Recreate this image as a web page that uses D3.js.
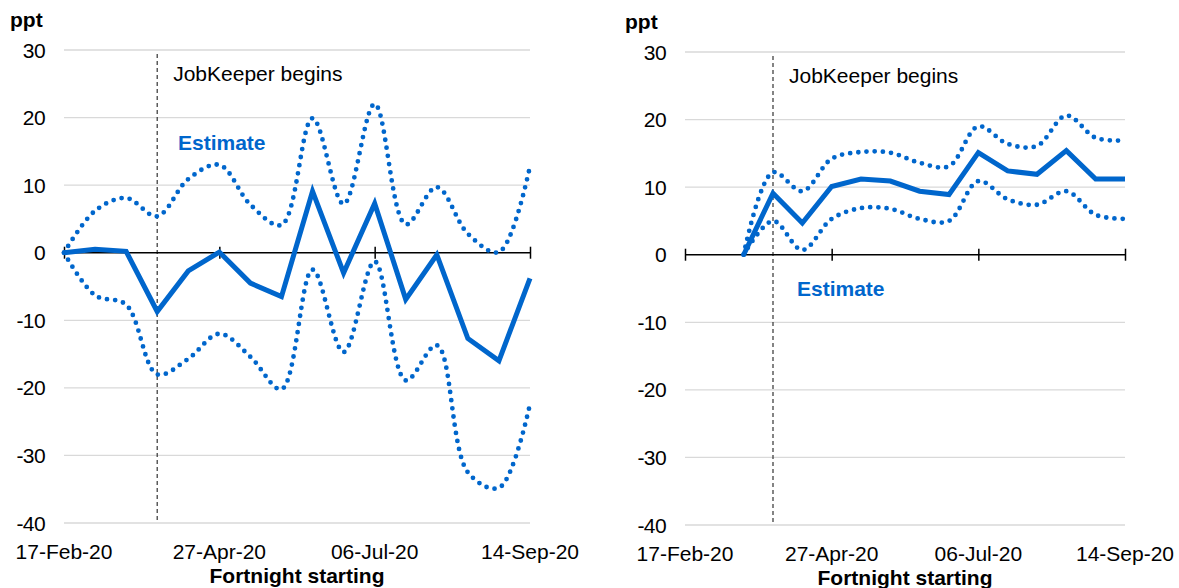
<!DOCTYPE html>
<html>
<head>
<meta charset="utf-8">
<script src="https://cdn.jsdelivr.net/npm/d3@7"></script>
<style>
  body { margin: 0; background: #fff; }
  svg { font-family: "Liberation Sans", Arial, sans-serif; }
</style>
</head>
<body>
<div id="chart"></div>
<script>
// fortnight start dates (x axis)
const fortnights = ["2020-02-17", "2020-03-02", "2020-03-16", "2020-03-30", "2020-04-13", "2020-04-27",
  "2020-05-11", "2020-05-25", "2020-06-08", "2020-06-22", "2020-07-06", "2020-07-20",
  "2020-08-03", "2020-08-17", "2020-08-31", "2020-09-14"];
const tickDates = ["2020-02-17", "2020-04-27", "2020-07-06", "2020-09-14"];
const jobKeeperDate = "2020-03-30";
const yTicks = [30, 20, 10, 0, -10, -20, -30, -40];

// left panel
const leftEstimate = [0, 0.5, 0.2, -8.7, -2.7, 0.1, -4.5, -6.5, 9.1, -3.0, 7.3, -6.9, -0.3, -12.7, -16.0, -3.8];
const leftUpper = [0, 6.2, 8.1, 5.4, 10.9, 13.0, 7.1, 4.1, 19.9, 7.2, 22.0, 4.2, 9.7, 2.8, 0.1, 12.8];
const leftLower = [0, -6.3, -7.7, -18.0, -15.7, -12.0, -15.4, -20.2, -2.5, -14.7, -1.3, -18.9, -13.7, -32.5, -34.8, -22.4];

// right panel
const rightEstimate = [null, null, 0, 9.1, 4.7, 10.1, 11.2, 10.9, 9.4, 8.9, 15.1, 12.4, 11.9, 15.4, 11.2, 11.2];
const rightUpper = [null, null, 0, 12.2, 9.4, 14.2, 15.2, 15.1, 13.6, 13.1, 19.0, 16.4, 16.1, 20.6, 17.3, 16.9];
const rightLower = [null, null, 0, 5.0, 0.7, 5.3, 6.9, 6.8, 5.3, 5.0, 10.9, 8.2, 7.4, 9.4, 5.9, 5.3];

const parse = d3.timeParse("%Y-%m-%d");
const fmt = d3.timeFormat("%d-%b-%y");
const blue = "#0066cc";
const fs = 21;

const svg = d3.select("#chart").append("svg")
  .attr("width", 1179)
  .attr("height", 588);

function drawPanel(cfg) {
  let x = d3.scaleTime()
    .domain([parse(fortnights[0]), parse(fortnights[fortnights.length - 1])])
    .range([cfg.x0, cfg.x1]);
  let y = d3.scaleLinear()
    .domain([-40, 30])
    .range([cfg.yBottom, cfg.yTop]);

  let g = svg.append("g");

  // gridlines
  g.selectAll(".grid")
    .data(yTicks.filter(d => d != 0))
    .enter()
    .append("line")
    .attr("x1", cfg.x0).attr("x2", cfg.x1)
    .attr("y1", d => y(d)).attr("y2", d => y(d))
    .attr("stroke", "#d9d9d9")
    .attr("stroke-width", 1.3);

  // y labels
  g.selectAll(".ylab")
    .data(yTicks)
    .enter()
    .append("text")
    .attr("x", cfg.x0 - 19)
    .attr("y", d => y(d) + 7.5)
    .attr("text-anchor", "end")
    .attr("font-size", fs)
    .attr("letter-spacing", -0.6)
    .attr("fill", "#000")
    .text(d => d);

  g.append("text")
    .attr("x", cfg.pptX)
    .attr("y", cfg.yTop - 23)
    .attr("font-size", fs)
    .attr("font-weight", "bold")
    .text("ppt");

  // JobKeeper line
  let jk = x(parse(jobKeeperDate));
  g.append("line")
    .attr("x1", jk).attr("x2", jk)
    .attr("y1", cfg.yTop + 4).attr("y2", cfg.yBottom)
    .attr("stroke", "#333")
    .attr("stroke-width", 1.2)
    .attr("stroke-dasharray", "4,3");

  g.append("text")
    .attr("x", jk + 16)
    .attr("y", cfg.yTop + 31)
    .attr("font-size", fs)
    .text("JobKeeper begins");

  // zero axis
  let axis = d3.axisBottom(x)
    .tickValues(tickDates.map(parse))
    .tickSize(12)
    .tickFormat("");
  let ax = g.append("g")
    .attr("transform", `translate(0,${y(0) - 6})`)
    .call(axis);
  ax.select(".domain").remove();
  ax.selectAll(".tick line").attr("stroke", "#000").attr("stroke-width", 1.5);
  g.append("line")
    .attr("x1", cfg.x0).attr("x2", cfg.x1)
    .attr("y1", y(0)).attr("y2", y(0))
    .attr("stroke", "#000")
    .attr("stroke-width", 1.5);

  // x labels
  g.selectAll(".xlab")
    .data(tickDates)
    .enter()
    .append("text")
    .attr("x", d => x(parse(d)))
    .attr("y", cfg.yBottom + 36)
    .attr("text-anchor", "middle")
    .attr("font-size", fs)
    .text(d => fmt(parse(d)));

  g.append("text")
    .attr("x", (cfg.x0 + cfg.x1) / 2)
    .attr("y", cfg.yBottom + 60)
    .attr("text-anchor", "middle")
    .attr("font-size", fs)
    .attr("font-weight", "bold")
    .text("Fortnight starting");

  let smooth = d3.line()
    .defined(d => d[1] != null)
    .x(d => x(parse(d[0])))
    .y(d => y(d[1]))
    .curve(d3.curveCatmullRom.alpha(0.5));

  let straight = d3.line()
    .defined(d => d[1] != null)
    .x(d => x(parse(d[0])))
    .y(d => y(d[1]));

  [cfg.upper, cfg.lower].forEach(s => {
    g.append("path")
      .datum(fortnights.map((f, i) => [f, s[i]]))
      .attr("d", smooth)
      .attr("fill", "none")
      .attr("stroke", blue)
      .attr("stroke-width", 4.8)
      .attr("stroke-linecap", "round")
      .attr("stroke-dasharray", "0 8.2");
  });

  g.append("path")
    .datum(fortnights.map((f, i) => [f, cfg.estimate[i]]))
    .attr("d", straight)
    .attr("fill", "none")
    .attr("stroke", blue)
    .attr("stroke-width", 5)
    .attr("stroke-linejoin", "miter");

  g.append("text")
    .attr("x", cfg.estX)
    .attr("y", cfg.estY)
    .attr("font-size", fs)
    .attr("font-weight", "bold")
    .attr("fill", blue)
    .text("Estimate");
}

drawPanel({
  x0: 64, x1: 530, yTop: 50, yBottom: 523, pptX: 10,
  estimate: leftEstimate, upper: leftUpper, lower: leftLower,
  estX: 178, estY: 150
});

drawPanel({
  x0: 685, x1: 1125, yTop: 52, yBottom: 525, pptX: 625,
  estimate: rightEstimate, upper: rightUpper, lower: rightLower,
  estX: 797, estY: 296
});
</script>
</body>
</html>
